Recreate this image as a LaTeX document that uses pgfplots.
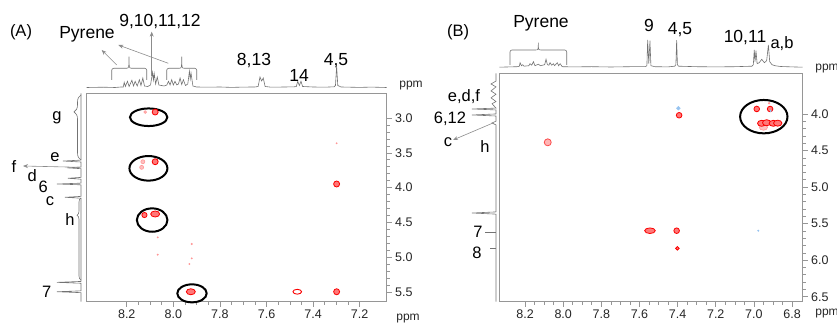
\documentclass[border=0pt]{standalone}
\usepackage{fontspec}
\setmainfont{Liberation Sans}
\usepackage{pgfplots}
\pgfplotsset{compat=1.18}
\usetikzlibrary{arrows.meta,decorations.pathreplacing}

\definecolor{frame}{RGB}{150,150,150}
\definecolor{spec}{RGB}{115,115,115}
\definecolor{ctr}{RGB}{250,0,0}
\definecolor{ctrfill}{RGB}{255,120,120}
\definecolor{ctrlight}{RGB}{255,150,150}
\definecolor{cblue}{RGB}{150,195,240}
\definecolor{arr}{RGB}{140,140,140}

\pgfplotsset{
  mainax/.style={scale only axis, x dir=reverse, y dir=reverse, clip=false,
    axis line style={frame, line width=0.8pt},
    tick style={frame, line width=0.6pt},
    tick align=outside, major tick length=5pt, minor tick length=3pt,
    xtick pos=left, ytick pos=right, yticklabel pos=right,
    ticklabel style={font=\fontsize{12.5}{14}\selectfont, text=black!85},
    xticklabel style={/pgf/number format/fixed, /pgf/number format/fixed zerofill, /pgf/number format/precision=1},
    yticklabel style={/pgf/number format/fixed, /pgf/number format/fixed zerofill, /pgf/number format/precision=1},
    /pgf/number format/assume math mode=true},
  topax/.style={scale only axis, x dir=reverse, axis lines=none, ymin=0, ymax=30, clip=false},
  leftax/.style={scale only axis, x dir=reverse, y dir=reverse, axis lines=none, xmin=0, clip=false},
  pk/.style={only marks, mark=*, mark size=#1, mark options={draw=ctr, fill=ctrfill, line width=0.8pt}},
  pke/.style 2 args={only marks, mark=*, mark size=#1, mark options={draw=ctr, fill=ctrfill, line width=0.8pt, xscale=#2}},
  pkl/.style={only marks, mark=*, mark size=#1, mark options={draw=ctrlight, fill=ctrlight!60, line width=0.6pt}},
  pkle/.style 2 args={only marks, mark=*, mark size=#1, mark options={draw=ctrlight, fill=ctrlight!60, line width=0.6pt, xscale=#2}},
  pkb/.style={only marks, mark=*, mark size=#1, mark options={draw=cblue, fill=cblue, line width=0.5pt}},
  sp/.style={spec, line width=0.6pt},
}
\newcommand{\bigfont}{\fontsize{17.5}{20}\selectfont}
\newcommand{\lfont}{\fontsize{16.5}{19}\selectfont}
\newcommand{\pfont}{\fontsize{12}{14}\selectfont}
% bracket: x1, x2, xm, ybot, yline, ytop
\newcommand{\bracket}[6]{%
  \draw[spec, line width=0.6pt] (#1pt,#4pt) -- (#1pt,#5pt-2pt) to[out=90,in=180] (#1pt+2pt,#5pt) -- (#3pt-3pt,#5pt)
    .. controls (#3pt,#5pt) .. (#3pt,#6pt) .. controls (#3pt,#5pt) .. (#3pt+3pt,#5pt)
    -- (#2pt-2pt,#5pt) to[out=0,in=90] (#2pt,#5pt-2pt) -- (#2pt,#4pt);}

\begin{document}
\begin{tikzpicture}
\useasboundingbox (0pt,0pt) rectangle (837pt,326pt);

% ================= PANEL A =================
\begin{axis}[mainax, at={(86.7pt,24.3pt)}, anchor=south west, width=300pt, height=208.4pt,
  xmin=7.084, xmax=8.372, ymin=2.645, ymax=5.639,
  xtick={7.2,7.4,7.6,7.8,8.0,8.2}, minor x tick num=3,
  ytick={3.0,3.5,4.0,4.5,5.0,5.5}, minor y tick num=4]
\addplot[pk=3] coordinates {(8.078,2.914) (8.078,3.628) (7.299,5.496) (7.299,3.948)};
\addplot[pke={3}{1.5}] coordinates {(8.078,4.379) (7.925,5.496)};
\addplot[pk=2.6] coordinates {(8.124,4.394)};
\addplot[only marks, mark=*, mark size=2.4, mark options={draw=ctr, fill=white, line width=0.9pt, xscale=1.8}] coordinates {(7.468,5.496)};
\addplot[pkl=1.4] coordinates {(8.121,2.914)};
\addplot[pkl=2] coordinates {(8.131,3.628) (8.136,3.709)};
\addplot[pkl=0.6] coordinates {(8.067,4.714) (8.067,4.964) (7.921,4.81) (7.921,5.016) (7.931,5.098) (7.299,3.364)};
\draw[line width=2pt] (axis cs:8.106,2.989) ellipse [x radius=18.7pt, y radius=8.8pt];
\draw[line width=2pt] (axis cs:8.107,3.723) ellipse [x radius=19pt, y radius=12.3pt];
\draw[line width=2pt] (axis cs:8.091,4.466) ellipse [x radius=15.3pt, y radius=11.7pt];
\draw[line width=2pt] (axis cs:7.920,5.519) ellipse [x radius=14.7pt, y radius=9pt];
\end{axis}

% top spectrum A
\begin{axis}[topax, at={(86.7pt,238pt)}, anchor=south west, width=300pt, height=30pt,
  xmin=7.084, xmax=8.372]
\addplot[sp] coordinates {
(8.372,0.5) (8.30,0.8) (8.25,0.5) (8.225,1)
(8.215,1) (8.211,5.7) (8.206,1.5) (8.197,6.7) (8.190,1.5) (8.178,7.7) (8.171,2) (8.164,6.7)
(8.155,2) (8.146,8.3) (8.139,2.5) (8.131,10) (8.124,2) (8.110,1.5) (8.098,3) (8.089,15.7)
(8.0855,8) (8.082,14.3) (8.076,4) (8.069,11) (8.062,3) (8.040,2) (8.028,3) (8.021,6.7)
(8.014,3) (8.007,8.3) (8.000,3) (7.993,6.7) (7.985,3) (7.978,4) (7.971,10) (7.964,3.5)
(7.957,8.3) (7.948,2.5) (7.938,4) (7.931,16.7) (7.9275,9) (7.924,15) (7.916,2) (7.90,1)
(7.85,0.8) (7.80,1) (7.75,0.6) (7.70,0.9) (7.65,1) (7.636,1.5) (7.628,11) (7.621,7)
(7.614,10) (7.606,1.5) (7.58,0.8) (7.52,1) (7.48,1.2) (7.472,1.5) (7.466,6.7) (7.459,2.5)
(7.452,6.7) (7.445,1.5) (7.40,1) (7.35,0.8) (7.31,1.2) (7.304,2.5) (7.299,21.7) (7.294,2.5)
(7.28,1) (7.20,0.6) (7.15,0.9) (7.084,0.5)};
\end{axis}

% left spectrum A
\begin{axis}[leftax, at={(20pt,24.3pt)}, anchor=south west, width=61pt, height=208.4pt,
  xmax=61, ymin=2.645, ymax=5.639]
\addplot[sp] coordinates {
(0,2.645) (0,3.605) (18,3.618) (0,3.632) (0,3.705) (14,3.716) (0,3.728) (0,3.853) (13,3.866)
(0,3.879) (0,3.936) (24,3.948) (0,3.960) (0,4.126) (16,4.139) (0,4.152) (0,5.348) (24,5.361)
(0,5.374) (0,5.483) (24,5.496) (0,5.509) (0,5.639)};
\end{axis}

% braces, arrows, labels A
\bracket{111.7}{146.7}{129}{246}{257.7}{269.3}
\bracket{166.7}{196.7}{181.7}{246}{257.7}{269.3}
\draw[spec, line width=0.6pt, decorate, decoration={brace, amplitude=7pt, aspect=0.74}] (81pt,166pt) -- (81pt,231pt);
\draw[spec, line width=0.6pt, decorate, decoration={brace, amplitude=4pt, aspect=0.79}] (81pt,46pt) -- (81pt,128pt);
\draw[arr, line width=0.6pt, -{Stealth[length=5pt,width=4pt]}] (116.7pt,261pt) -- (101.7pt,276pt);
\draw[arr, line width=0.6pt, -{Stealth[length=5pt,width=4pt]}] (168.3pt,262.7pt) -- (118.3pt,281pt);
\draw[arr, line width=0.6pt, -{Stealth[length=5pt,width=4pt]}] (151.7pt,250pt) -- (151.7pt,294.3pt);
\draw[arr, line width=0.6pt, -{Stealth[length=5pt,width=4pt]}] (80pt,158.7pt) -- (23pt,160pt);

\node[font=\lfont] at (21pt,294pt) {(A)};
\node[font=\bigfont] at (87pt,292pt) {Pyrene};
\node[font=\bigfont] at (160pt,304pt) {9,10,11,12};
\node[font=\bigfont] at (254pt,265pt) {8,13};
\node[font=\bigfont] at (299pt,251pt) {14};
\node[font=\bigfont] at (336pt,265pt) {4,5};
\node[font=\pfont, text=black!85] at (411pt,240pt) {ppm};
\node[font=\pfont, text=black!85] at (408pt,7pt) {ppm};
\node[font=\lfont] at (57pt,208pt) {g};
\node[font=\lfont] at (55pt,169pt) {e};
\node[font=\lfont] at (14pt,159pt) {f};
\node[font=\lfont] at (32.3pt,150.3pt) {d};
\node[font=\lfont] at (43.3pt,138.7pt) {6};
\node[font=\lfont] at (50pt,125.3pt) {c};
\node[font=\lfont] at (70pt,106pt) {h};
\node[font=\lfont] at (46.7pt,33.7pt) {7};

% ================= PANEL B =================
\begin{axis}[mainax, at={(499.3pt,24.3pt)}, anchor=south west, width=303.4pt, height=228.4pt,
  xmin=6.744, xmax=8.335, ymin=3.444, ymax=6.568,
  xtick={6.8,7.0,7.2,7.4,7.6,7.8,8.0,8.2}, minor x tick num=3,
  ytick={4.0,4.5,5.0,5.5,6.0,6.5}, minor y tick num=4]
\addplot[only marks, mark=*, mark size=3.5, mark options={draw=ctr!70, fill=ctrlight!70, line width=0.8pt}] coordinates {(8.081,4.388)};
\addplot[pk=2.8] coordinates {(7.392,4.018) (7.405,5.597) (6.985,3.932) (6.915,3.932)};
\addplot[pke={2.8}{1.9}] coordinates {(7.545,5.597)};
\addplot[pk=1.8] coordinates {(7.401,5.838)};
\addplot[pkb=1.8] coordinates {(7.396,3.922)};
\addplot[pkb=0.7] coordinates {(6.977,5.597) (6.912,3.960)};
\addplot[pkl=0.8] coordinates {(6.92,3.854)};
\addplot[pkle={3}{1.4}] coordinates {(6.95,4.182)};
\addplot[pke={3}{1.4}] coordinates {(6.959,4.128) (6.933,4.12) (6.898,4.128) (6.875,4.126)};
\draw[line width=2pt] (axis cs:6.948,4.037) ellipse [x radius=23.7pt, y radius=16.7pt];
\end{axis}

% top spectrum B
\begin{axis}[topax, at={(499.3pt,258.3pt)}, anchor=south west, width=303.4pt, height=30pt,
  xmin=6.744, xmax=8.335]
\addplot[sp] coordinates {
(8.335,0.5) (8.28,0.8) (8.24,1) (8.23,1.5) (8.226,5) (8.219,2) (8.212,3) (8.205,1.5) (8.18,2)
(8.174,4) (8.165,2.5) (8.156,6) (8.148,2) (8.130,3.5) (8.12,2) (8.097,3) (8.090,8.5) (8.083,3)
(8.075,2.5) (8.069,5) (8.060,2.5) (8.052,4) (8.045,2) (8.031,5) (8.024,2) (8.016,4) (8.005,1)
(7.95,0.8) (7.85,1) (7.75,0.7) (7.65,1) (7.57,1) (7.561,2) (7.557,27.7) (7.551,4) (7.545,27)
(7.540,2) (7.52,1) (7.45,0.8) (7.415,1.5) (7.409,3) (7.405,27.6) (7.401,3) (7.395,1.5) (7.30,1)
(7.20,0.8) (7.10,1) (7.01,1.5) (7.003,3) (6.998,17.7) (6.994,6) (6.989,17) (6.983,4) (6.972,5)
(6.959,8.4) (6.945,5) (6.933,7) (6.924,22.7) (6.917,6) (6.905,3) (6.89,2) (6.86,1.2) (6.80,0.8)
(6.744,0.5)};
\end{axis}

% left spectrum B
\begin{axis}[leftax, at={(440pt,24.3pt)}, anchor=south west, width=56pt, height=228.4pt,
  xmax=56, ymin=3.444, ymax=6.568]
\addplot[sp] coordinates {
(0,3.444) (0,3.55) (5,3.59) (0,3.63) (5,3.685) (0,3.73) (5,3.78) (0,3.83) (4,3.86) (0,3.92)
(24,3.932) (0,3.945) (0,4.0) (24,4.014) (0,4.028) (0,4.10) (4,4.123) (0,4.15) (0,5.34)
(24,5.355) (0,5.37) (0,6.568)};
\end{axis}

\bracket{510}{566.7}{538.3}{261}{276}{283.3}
\draw[arr, line width=0.6pt, -{Stealth[length=5pt,width=4pt]}] (493pt,203pt) -- (453pt,186pt);
\draw[spec, line width=0.6pt] (485pt,94pt) -- (496pt,94pt);
\draw[spec, line width=0.6pt] (490pt,78pt) -- (496pt,78pt);

\node[font=\lfont] at (458pt,294pt) {(B)};
\node[font=\bigfont] at (541pt,303pt) {Pyrene};
\node[font=\bigfont] at (649pt,301pt) {9};
\node[font=\bigfont] at (680pt,296pt) {4,5};
\node[font=\bigfont] at (745pt,288pt) {10,11};
\node[font=\lfont] at (782pt,282pt) {a,b};
\node[font=\pfont, text=black!85] at (827pt,257pt) {ppm};
\node[font=\pfont, text=black!85] at (827pt,12pt) {ppm};
\node[font=\lfont] at (464pt,229pt) {e,d,f};
\node[font=\lfont] at (450pt,207pt) {6,12};
\node[font=\lfont] at (448pt,184.3pt) {c};
\node[font=\lfont] at (485pt,179pt) {h};
\node[font=\lfont] at (478pt,94pt) {7};
\node[font=\lfont] at (477pt,73pt) {8};
\end{tikzpicture}
\end{document}
